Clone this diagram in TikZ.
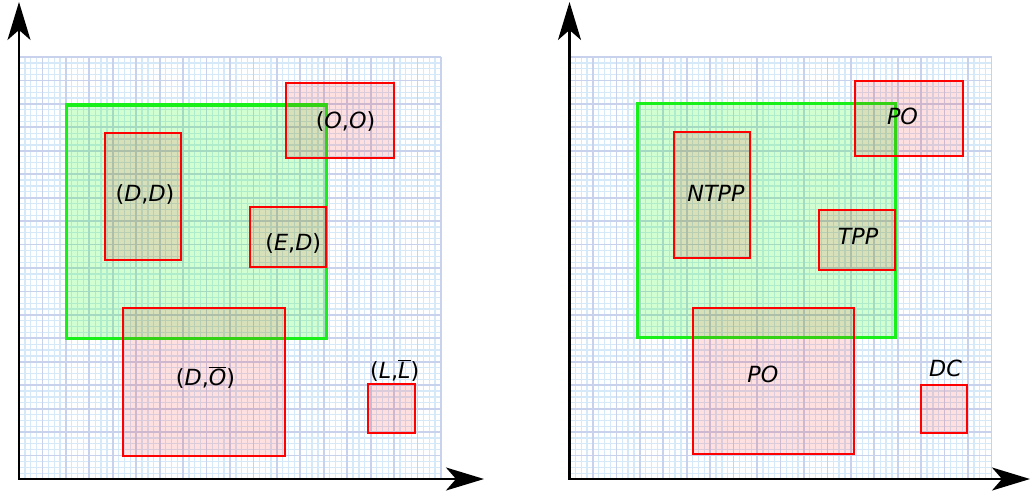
\documentclass[tikz,border=0pt]{standalone}
\usepackage{fontspec}
\setmainfont{DejaVu Sans}
\usetikzlibrary{arrows.meta}
\definecolor{gminor}{RGB}{214,233,249}
\definecolor{gmajor}{RGB}{200,210,236}
\definecolor{limeline}{RGB}{25,240,25}
\tikzset{
  minorline/.style={gminor, line width=1.1pt},
  majorline/.style={gmajor, line width=1.5pt},
  regionbox/.style={draw=limeline, line width=2.8pt, fill=green, fill opacity=0.18},
  relbox/.style={draw=red, line width=2pt, fill=red, fill opacity=0.12},
  lbl/.style={font=\fontsize{19}{23}\selectfont, inner sep=0pt, anchor=base},
  axisline/.style={black, line width=2pt, line join=miter,
    {Stealth[length=1.14cm,width=0.69cm,inset=0.3cm]}-{Stealth[length=1.14cm,width=0.69cm,inset=0.3cm]}},
}
\newcommand{\ovl}[1]{\ensuremath{\overline{\hbox{\textit{#1}}}}}
\begin{document}
\begin{tikzpicture}[x=0.03cm,y=-0.03cm]
\useasboundingbox (0,0) rectangle (1030,495);
% grids
\foreach \ox in {19,569.5}{
  \foreach \k in {0,...,72}{
    \pgfmathsetmacro\gp{\ox+\k*5.8611}
    \pgfmathsetmacro\gq{57+\k*5.8611}
    \pgfmathsetmacro\gr{\ox+422}
    \draw[minorline] (\gp,57) -- (\gp,479);
    \draw[minorline] (\ox,\gq) -- (\gr,\gq);
  }
  \foreach \k in {0,...,18}{
    \pgfmathsetmacro\gp{\ox+\k*23.444}
    \pgfmathsetmacro\gq{57+\k*23.444}
    \pgfmathsetmacro\gr{\ox+422}
    \draw[majorline] (\gp,57) -- (\gp,479);
    \draw[majorline] (\ox,\gq) -- (\gr,\gq);
  }
}
% left panel regions
\draw[regionbox] (66.7,105) rectangle (326.7,338.3);
\draw[relbox] (105,132.7) rectangle (180.7,260);
\draw[relbox] (286,82.7) rectangle (393.7,157.7);
\draw[relbox] (250,206.7) rectangle (326,267);
\draw[relbox] (123,308.3) rectangle (285,455.7);
\draw[relbox] (368.3,384) rectangle (415,432.7);
% right panel regions
\draw[regionbox] (637.7,103.3) rectangle (895.7,337.3);
\draw[relbox] (674.3,131.7) rectangle (750,258.3);
\draw[relbox] (855,81) rectangle (963.3,156);
\draw[relbox] (819.3,210) rectangle (895.3,270);
\draw[relbox] (693.3,307.7) rectangle (854,454.3);
\draw[relbox] (921,385.3) rectangle (966.7,433.3);
% labels left
\node[lbl] (lDD) at (145,201.7) {(\textit{D},\textit{D})};
\node[lbl] (lOO) at (345.5,128.3) {(\textit{O},\textit{O})};
\node[lbl] (lED) at (293.3,250) {(\textit{E},\textit{D})};
\node[lbl] (lDO) at (205.5,385) {(\textit{D},\ovl{O})};
\node[lbl] (lLL) at (394.7,378.3) {(\textit{L},\ovl{L})};
% labels right
\node[lbl] (rNTPP) at (716,201.7) {\textit{NTPP}};
\node[lbl] (rTPP) at (858,244) {\textit{TPP}};
\node[lbl] (rPOa) at (902.5,124) {\textit{PO}};
\node[lbl] (rPOb) at (762.8,382.3) {\textit{PO}};
\node[lbl] (rDC) at (945.5,376) {\textit{DC}};
% axes
\coordinate (oL) at (19,479);
\coordinate (yL) at (19,2);
\coordinate (xL) at (484,479);
\coordinate (oR) at (569.5,479);
\coordinate (yR) at (569.5,2);
\coordinate (xR) at (1030,479);
\draw[axisline] (yL) -- (oL) -- (xL);
\draw[axisline] (yR) -- (oR) -- (xR);
\end{tikzpicture}
\end{document}
